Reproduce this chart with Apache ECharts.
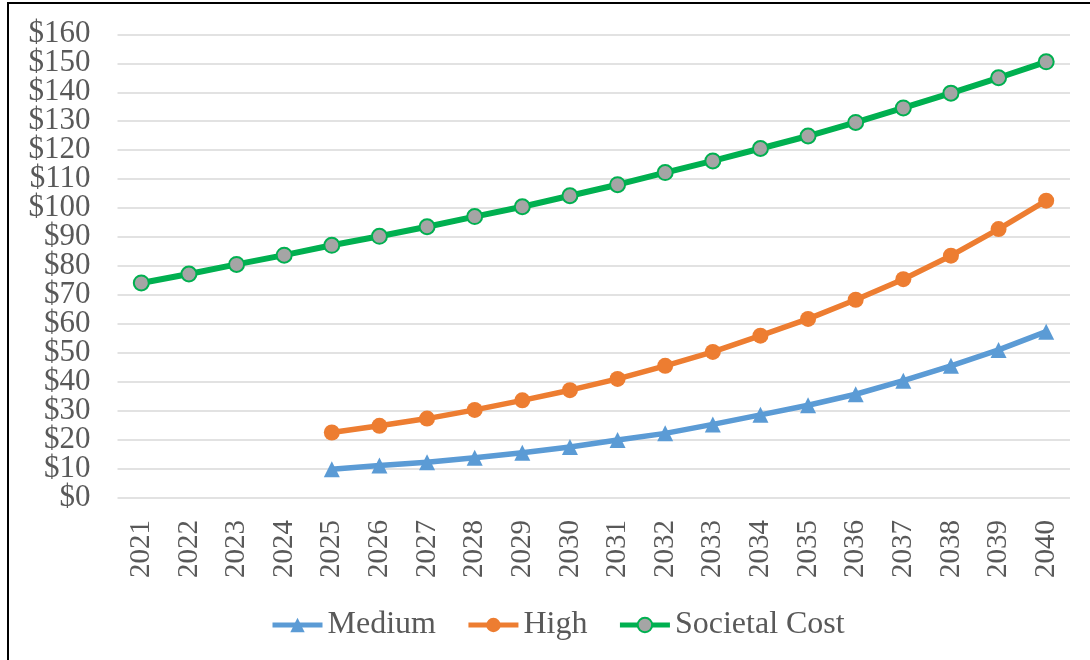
<!DOCTYPE html>
<html>
<head>
<meta charset="utf-8">
<script src="https://cdn.jsdelivr.net/npm/echarts@6/dist/echarts.min.js"></script>
<style>
  html, body { margin: 0; padding: 0; background: #fff; }
  #chart { width: 1090px; height: 660px; }
</style>
</head>
<body>
<div id="chart"></div>
<script>
// 数据
var years = ['2021', '2022', '2023', '2024', '2025', '2026', '2027', '2028', '2029', '2030',
             '2031', '2032', '2033', '2034', '2035', '2036', '2037', '2038', '2039', '2040'];
var medium = [null, null, null, null, 9.9, 11.2, 12.3, 13.9, 15.6, 17.6,
              20.0, 22.3, 25.4, 28.7, 32.0, 35.8, 40.5, 45.6, 51.1, 57.4];
var high = [null, null, null, null, 22.6, 24.9, 27.4, 30.4, 33.7, 37.2,
            41.1, 45.6, 50.4, 56.0, 61.8, 68.4, 75.5, 83.6, 92.8, 102.6];
var societal = [74.2, 77.3, 80.6, 83.8, 87.2, 90.3, 93.6, 97.1, 100.5, 104.3,
                108.1, 112.3, 116.3, 120.6, 124.9, 129.6, 134.6, 139.7, 145.0, 150.5];
var yMin = 0, yMax = 160, yStep = 10;

var font = 'Liberation Serif';
var textColor = '#595959';

var myChart = echarts.init(document.getElementById('chart'));

// 两个重叠的 y 轴：一个只显示首尾刻度，另一个显示中间刻度（避免自动隐藏重叠标签）
function yLabel(v) { return '$' + v; }

var yLabelStyle = {
    margin: 27,
    fontFamily: font,
    fontSize: 31,
    color: textColor
};

var option = {
    animation: false,
    backgroundColor: '#fff',
    graphic: [{
        type: 'rect',
        shape: { x: 8, y: 3, width: 1200, height: 800 },
        style: { fill: 'none', stroke: '#000', lineWidth: 2 },
        silent: true
    }],
    grid: {
        left: 117.5,
        right: 20,
        top: 34.3,
        bottom: 162
    },
    legend: {
        left: 265,
        top: 604,
        itemWidth: 50,
        itemHeight: 18,
        itemGap: 30,
        lineStyle: { width: 5 },
        textStyle: { fontFamily: font, fontSize: 32, color: textColor },
        data: ['Medium', 'High', 'Societal Cost']
    },
    xAxis: {
        type: 'category',
        data: years,
        boundaryGap: true,
        axisLine: { show: false },
        axisTick: { show: false },
        axisLabel: {
            rotate: 90,
            margin: 22,
            interval: 0,
            fontFamily: font,
            fontSize: 29,
            color: textColor
        }
    },
    yAxis: [{
        type: 'value',
        position: 'left',
        min: yMin,
        max: yMax,
        interval: yStep,
        axisLine: { show: false },
        axisTick: { show: false },
        splitLine: { lineStyle: { color: '#D9D9D9', width: 1.5 } },
        axisLabel: Object.assign({}, yLabelStyle, {
            showMinLabel: true,
            showMaxLabel: true,
            formatter: function (v) { return (v === yMin || v === yMax) ? yLabel(v) : ''; }
        })
    }, {
        type: 'value',
        position: 'left',
        offset: 0,
        min: yMin,
        max: yMax,
        interval: yStep,
        axisLine: { show: false },
        axisTick: { show: false },
        splitLine: { show: false },
        axisLabel: Object.assign({}, yLabelStyle, {
            showMinLabel: false,
            showMaxLabel: false,
            formatter: yLabel
        })
    }],
    series: [{
        name: 'Medium',
        type: 'line',
        data: medium,
        symbol: 'triangle',
        symbolSize: 16,
        lineStyle: { color: '#5B9BD5', width: 5.5 },
        itemStyle: { color: '#5B9BD5' }
    }, {
        name: 'High',
        type: 'line',
        data: high,
        symbol: 'circle',
        symbolSize: 16,
        lineStyle: { color: '#ED7D31', width: 5.5 },
        itemStyle: { color: '#ED7D31' }
    }, {
        name: 'Societal Cost',
        type: 'line',
        data: societal,
        symbol: 'circle',
        symbolSize: 15,
        lineStyle: { color: '#00B050', width: 6 },
        itemStyle: { color: '#A5A5A5', borderColor: '#00B050', borderWidth: 2 }
    }]
};

myChart.setOption(option);
</script>
</body>
</html>
